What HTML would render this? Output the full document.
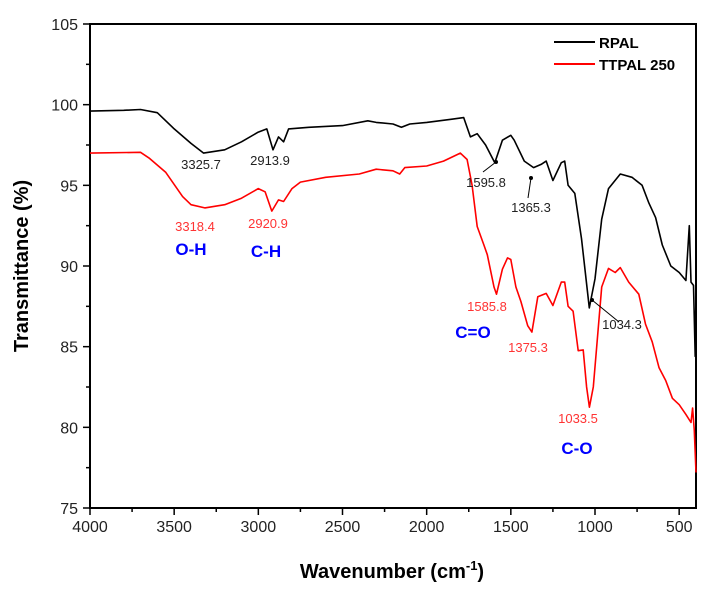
<!DOCTYPE html>
<html><head><meta charset="utf-8"><style>
body{margin:0;background:#fff;}
svg{display:block;font-family:"Liberation Sans",Arial,sans-serif;}
</style></head><body>
<svg id="chart" width="712" height="591" viewBox="0 0 712 591" xmlns="http://www.w3.org/2000/svg">
<g id="axes"></g>
<g id="series"></g>
<g id="notes"></g>
<text x="0" y="0" transform="translate(28,266) rotate(-90)" text-anchor="middle" font-size="20" font-weight="bold">Transmittance (%)</text>
<text x="392" y="578" text-anchor="middle" font-size="20" font-weight="bold">Wavenumber (cm<tspan font-size="13" dy="-8">-1</tspan><tspan dy="8">)</tspan></text>
<g>
<line x1="554" y1="42" x2="595" y2="42" stroke="#000" stroke-width="2"/>
<text x="599" y="48" font-size="15" font-weight="bold">RPAL</text>
<line x1="554" y1="64" x2="595" y2="64" stroke="#f00" stroke-width="2"/>
<text x="599" y="70" font-size="15" font-weight="bold">TTPAL 250</text>
</g>
</svg>
<script>
const xTicks=[4000,3500,3000,2500,2000,1500,1000,500];
const yTicks=[75,80,85,90,95,100,105];
const rpalWave=[4000,3800,3700,3600,3500,3400,3325,3200,3100,3000,2950,2913,2880,2850,2820,2700,2500,2350,2300,2200,2150,2100,2000,1850,1780,1740,1700,1650,1595,1550,1500,1480,1420,1365,1320,1290,1250,1200,1180,1160,1120,1080,1034,1000,960,920,850,780,720,680,640,600,550,500,460,440,430,415,405,400];
const rpalT=[99.6,99.65,99.7,99.5,98.5,97.6,97.0,97.2,97.7,98.3,98.5,97.2,98.0,97.7,98.5,98.6,98.7,99.0,98.9,98.8,98.6,98.8,98.9,99.1,99.2,98.0,98.2,97.5,96.4,97.8,98.1,97.8,96.5,96.1,96.3,96.5,95.3,96.4,96.5,95.0,94.5,91.7,87.4,89.2,92.9,94.8,95.7,95.5,95.0,93.9,93.0,91.3,90.0,89.6,89.1,92.5,89.0,88.8,84.4,88.5];
const ttWave=[4000,3700,3650,3550,3450,3400,3318,3200,3100,3000,2960,2920,2880,2850,2800,2750,2600,2400,2300,2200,2160,2130,2000,1900,1800,1760,1730,1700,1660,1640,1600,1585,1550,1520,1500,1470,1440,1400,1375,1340,1290,1250,1200,1180,1160,1130,1100,1070,1050,1033,1010,990,960,920,880,850,800,740,700,660,620,580,540,500,460,430,420,410,400];
const ttT=[97.0,97.05,96.7,95.8,94.3,93.8,93.6,93.8,94.2,94.8,94.6,93.4,94.1,94.0,94.8,95.2,95.5,95.7,96.0,95.9,95.7,96.1,96.2,96.5,97.0,96.6,95.0,92.45,91.3,90.7,88.7,88.25,89.8,90.5,90.4,88.7,87.8,86.3,85.9,88.1,88.3,87.55,89.0,89.0,87.5,87.2,84.75,84.8,82.5,81.25,82.5,85.0,88.7,89.85,89.6,89.9,89.0,88.25,86.4,85.3,83.7,82.9,81.8,81.4,80.8,80.3,81.2,79.8,77.2];
const L=90,R=696,T=24,B=508,W0=4000,W1=400,Y0=75,Y1=105;
const sx=w=>L+(W0-w)/(W0-W1)*(R-L);
const sy=v=>B-(v-Y0)/(Y1-Y0)*(B-T);
const NS="http://www.w3.org/2000/svg";
function mk(tag,attrs,parent){const e=document.createElementNS(NS,tag);for(const k in attrs)e.setAttribute(k,attrs[k]);parent.appendChild(e);return e;}
const ax=document.getElementById('axes');
let frame=mk('rect',{x:L,y:T,width:R-L,height:B-T,fill:'none',stroke:'#000','stroke-width':2},ax);


xTicks.forEach(w=>{
 let t=mk('line',{x1:sx(w),y1:B,x2:sx(w),y2:B+7,stroke:'#000','stroke-width':1.5},ax);
 
 
 let m=mk('line',{x1:sx(w-250),y1:B,x2:sx(w-250),y2:B+4,stroke:'#000','stroke-width':1.5},ax);
 if(w-250<W1)m.remove();
 
 
 let lb=mk('text',{x:sx(w),y:B+24,'text-anchor':'middle','font-size':16,fill:'#222'},ax);
 lb.textContent=w;
 
 
});
yTicks.forEach(v=>{
 let t=mk('line',{x1:L-7,y1:sy(v),x2:L,y2:sy(v),stroke:'#000','stroke-width':1.5},ax);
 
 
 if(v<105){let m=mk('line',{x1:L-4,y1:sy(v+2.5),x2:L,y2:sy(v+2.5),stroke:'#000','stroke-width':1.5},ax);
 
 }
 let lb=mk('text',{x:L-12,y:sy(v)+6,'text-anchor':'end','font-size':16,fill:'#222'},ax);
 lb.textContent=v;
 
 
});
const sg=document.getElementById('series');
function line(ws,ts,col,name){
 const d=ws.map((w,i)=>(i?'L':'M')+sx(w).toFixed(1)+','+sy(ts[i]).toFixed(1)).join('');
 const p=mk('path',{d:d,fill:'none',stroke:col,'stroke-width':1.6,'stroke-linejoin':'round'},sg);
 
 
}
line(rpalWave,rpalT,'#000','rpal-line');
line(ttWave,ttT,'#f00','ttpal-250-line');
const ng=document.getElementById('notes');
const notes=[
 ['3325.7',201,169,'#222',13,'normal'],['2913.9',270,165,'#222',13,'normal'],
 ['1595.8',486,187,'#222',13,'normal'],['1365.3',531,212,'#222',13,'normal'],
 ['1034.3',622,329,'#222',13,'normal'],
 ['3318.4',195,231,'#f33',13,'normal'],['2920.9',268,228,'#f33',13,'normal'],
 ['1585.8',487,311,'#f33',13,'normal'],['1375.3',528,352,'#f33',13,'normal'],
 ['1033.5',578,423,'#f33',13,'normal'],
 ['O-H',191,255,'#00f',17,'bold'],['C-H',266,257,'#00f',17,'bold'],
 ['C=O',473,338,'#00f',17,'bold'],['C-O',577,454,'#00f',17,'bold']];
notes.forEach(n=>{
 const t=mk('text',{x:n[1],y:n[2],'text-anchor':'middle','font-size':n[4],'font-weight':n[5],fill:n[3]},ng);
 t.textContent=n[0];
 
 
});
[[483,172,496,162],[528,198,531,178],[619,322,592,300]].forEach(a=>{
 const l=mk('line',{x1:a[0],y1:a[1],x2:a[2],y2:a[3],stroke:'#000','stroke-width':1},ng);
 
 
 const c=mk('circle',{cx:a[2],cy:a[3],r:2,fill:'#000'},ng);
 
 
});
</script>
</body></html>
